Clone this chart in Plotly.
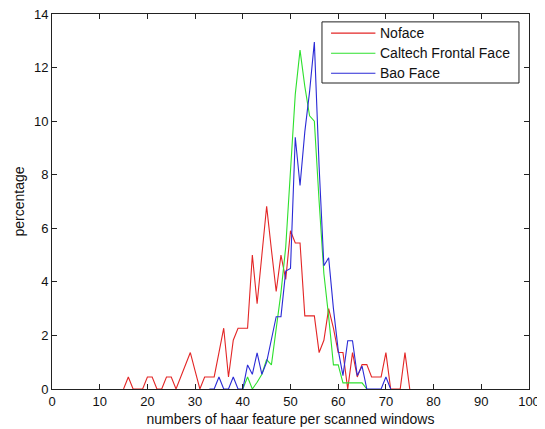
import plotly.graph_objects as go

# ---- data ----
noface_x = list(range(15, 76))
noface_y = [0, 0.45, 0, 0, 0, 0.45, 0.45, 0, 0, 0.45,
            0.45, 0, 0.45, 0.9, 1.36, 0.68, 0, 0.45, 0.45, 0.45,
            1.36, 2.27, 0.45, 1.82, 2.27, 2.27, 2.27, 5.0, 3.18, 5.0,
            6.82, 5.2, 3.64, 5.0, 4.09, 5.91, 5.45, 5.45, 2.73, 2.73,
            2.73, 1.36, 1.82, 3.0, 2.27, 1.36, 1.36, 0, 1.36, 0.45,
            0.91, 0.91, 0.45, 0.45, 0.45, 1.36, 0, 0, 0, 1.36,
            0]

caltech_x = list(range(40, 67))
caltech_y = [0, 0.45, 0, 0.25, 0.55, 1.1, 0.9, 2.3, 3.6, 5.3,
             8.0, 11.0, 12.65, 11.3, 10.2, 10.0, 7.0, 4.3, 2.7, 0.9,
             0.9, 0.23, 0.23, 0.23, 0.23, 0.23, 0]

bao_x = list(range(33, 72))
bao_y = [0, 0, 0.45, 0, 0, 0.45, 0, 0, 0.9, 0.55,
         1.35, 0.55, 1.0, 1.8, 2.7, 2.7, 4.4, 4.5, 9.4, 7.6,
         9.6, 11.1, 12.95, 8.3, 4.6, 4.9, 3.0, 1.45, 0.5, 1.8,
         1.8, 0.5, 0.85, 0, 0, 0, 0, 0.45, 0]

series_names = ["Noface", "Caltech Frontal Face", "Bao Face"]
series_colors = ["#e32626", "#2ee02e", "#2a2ad6"]
x_ticks = list(range(0, 101, 10))
y_ticks = list(range(0, 15, 2))

FONT = "Liberation Sans, Arial, Helvetica, sans-serif"
INK = "#111111"

fig = go.Figure()
for name, xs, ys, col in zip(series_names,
                             [noface_x, caltech_x, bao_x],
                             [noface_y, caltech_y, bao_y],
                             series_colors):
    fig.add_trace(go.Scatter(x=xs, y=ys, mode="lines", name=name,
                             showlegend=False,
                             line=dict(color=col, width=1.1)))

axis_common = dict(
    showline=True, linecolor="#222222", linewidth=1, mirror="ticks",
    ticks="inside", ticklen=5, tickcolor="#222222", tickwidth=1,
    showgrid=False, zeroline=False, automargin=False,
    ticklabeloverflow="allow",
    tickfont=dict(family=FONT, size=13, color=INK),
)

fig.update_xaxes(range=[0, 100], tickvals=x_ticks,
                 title=dict(text="numbers of haar feature per scanned windows",
                            font=dict(family=FONT, size=14, color=INK),
                            standoff=6),
                 **axis_common)
fig.update_yaxes(range=[0, 14], tickvals=y_ticks,
                 title=dict(text="percentage",
                            font=dict(family=FONT, size=14, color=INK),
                            standoff=6),
                 **axis_common)

# ---- MATLAB-style boxed legend (in plot-area fractions) ----
box_x0, box_x1, box_y0, box_y1 = 0.566, 0.979, 0.816, 0.979
sample_x0, sample_x1, text_x = 0.585, 0.678, 0.683
row_y0, row_step = 0.949, 0.0535

shapes = [dict(type="rect", xref="paper", yref="paper",
               x0=box_x0, x1=box_x1, y0=box_y0, y1=box_y1,
               line=dict(color="#222222", width=1), fillcolor="white",
               layer="above")]
annotations = []
for i, (name, col) in enumerate(zip(series_names, series_colors)):
    yy = row_y0 - i * row_step
    shapes.append(dict(type="line", xref="paper", yref="paper",
                       x0=sample_x0, x1=sample_x1, y0=yy, y1=yy,
                       line=dict(color=col, width=1.1), layer="above"))
    annotations.append(dict(xref="paper", yref="paper", x=text_x, y=yy,
                            text=name, showarrow=False,
                            xanchor="left", yanchor="middle",
                            font=dict(family=FONT, size=14, color=INK)))

# the page body has an 8px margin, so the figure is sized to fit the window
fig.update_layout(
    width=537, height=421,
    margin=dict(l=44, r=16, t=6, b=40),
    paper_bgcolor="white", plot_bgcolor="white",
    showlegend=False,
    shapes=shapes, annotations=annotations,
)

fig.write_html("out.html")
